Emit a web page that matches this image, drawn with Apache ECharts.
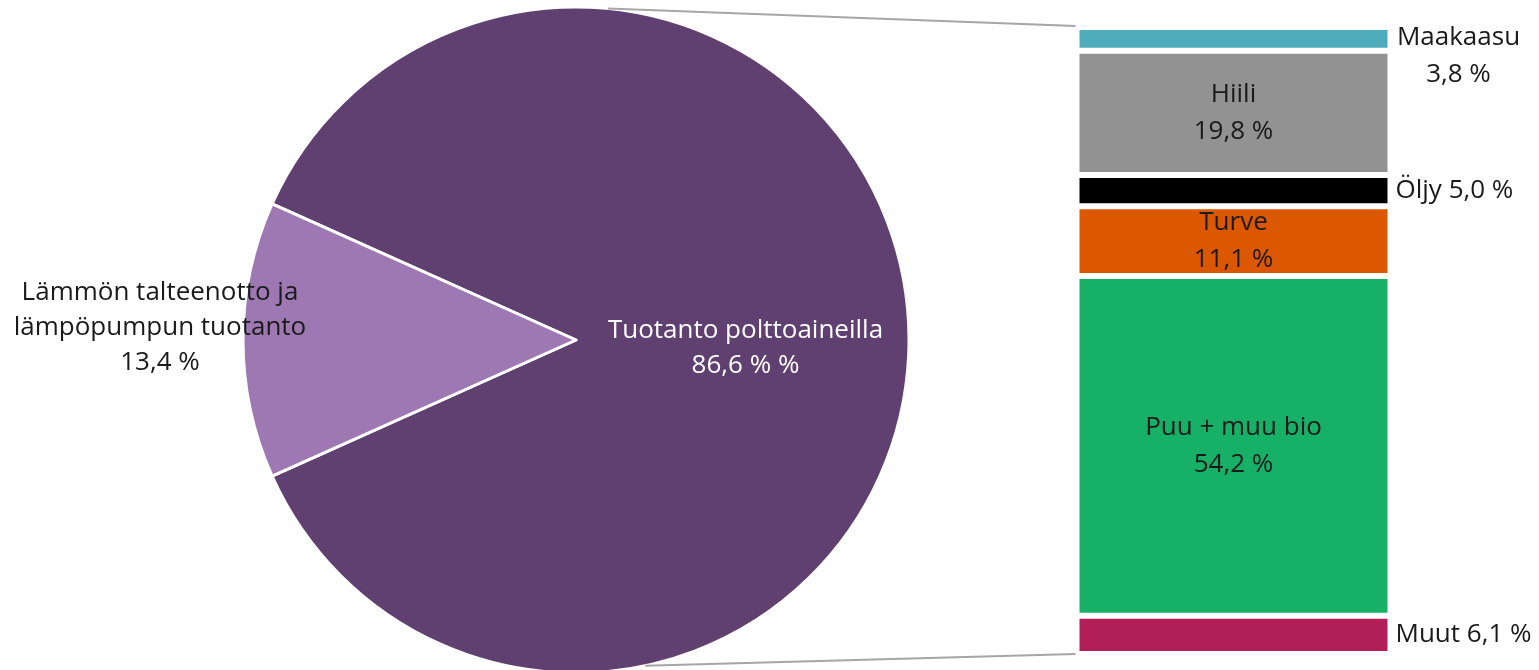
<!DOCTYPE html>
<html><head><meta charset="utf-8">
<script src="https://cdn.jsdelivr.net/npm/echarts@6/dist/echarts.min.js"></script>
<style>html,body{margin:0;padding:0;background:#fff}#c{width:1539px;height:670px}</style>
</head><body><div id="c"></div>
<script>
// Pie data
const pieNames = ['Tuotanto polttoaineilla', 'Lämmön talteenotto ja\nlämpöpumpun tuotanto'];
const pieValues = [86.6, 13.4];
const pieLabels = ['Tuotanto polttoaineilla\n86,6 % %', 'Lämmön talteenotto ja\nlämpöpumpun tuotanto\n13,4 %'];
const pieColors = ['#604070', '#9E78B2'];

// Stacked bar (fuel breakdown) data, top to bottom
const fuelNames = ['Maakaasu', 'Hiili', 'Öljy', 'Turve', 'Puu + muu bio', 'Muut'];
const fuelValues = [3.8, 19.8, 5.0, 11.1, 54.2, 6.1];
const fuelLabels = ['Maakaasu\n3,8 %', 'Hiili\n19,8 %', 'Öljy 5,0 %', 'Turve\n11,1 %', 'Puu + muu bio\n54,2 %', 'Muut 6,1 %'];
const fuelColors = ['#4FADBB', '#929292', '#000000', '#DB5700', '#17B067', '#B11E58'];
const fuelLabelPos = ['right', 'inside', 'right', 'inside', 'inside', 'right'];

const FONT = 'Open Sans';
const FS = 26;
const TXT = '#1a1a1a';

const cx = 576, cy = 340, R = 333;
const gLeft = 1076.5, gWidth = 314, gTop = 27, gHeight = 627;

const chart = echarts.init(document.getElementById('c'));

const barSeries = fuelNames.map((n, i) => {
  const lab = {
    show: true, formatter: fuelLabels[i], position: fuelLabelPos[i],
    fontFamily: FONT, fontSize: FS, color: TXT, lineHeight: 37, distance: 5
  };
  if (i === 0) { lab.align = 'center'; lab.offset = [63, 17]; }
  return {
    type: 'bar', name: n, stack: 'fuel', barWidth: '100%',
    data: [fuelValues[i]],
    itemStyle: { color: fuelColors[i], borderColor: '#fff', borderWidth: 3 },
    label: lab, silent: true
  };
});

const option = {
  animation: false,
  backgroundColor: '#fff',
  grid: { left: gLeft, width: gWidth, top: gTop, height: gHeight },
  xAxis: { type: 'category', data: ['a'], show: false },
  yAxis: { type: 'value', min: 0, max: 100, inverse: true, show: false },
  series: [
    {
      type: 'pie', center: [cx, cy], radius: R,
      startAngle: 180 - pieValues[1] / 100 * 360 / 2,
      clockwise: true,
      data: pieNames.map((n, i) => ({
        name: n, value: pieValues[i],
        itemStyle: { color: pieColors[i] },
        label: { formatter: pieLabels[i], color: i === 0 ? '#fff' : TXT }
      })),
      itemStyle: { borderColor: '#fff', borderWidth: 3 },
      label: { show: true, position: 'inside', fontFamily: FONT, fontSize: FS, lineHeight: 35, align: 'center' },
      labelLine: { show: false },
      labelLayout: function (p) {
        if (p.dataIndex === 1) return { x: 160, y: 328, align: 'center', verticalAlign: 'middle' };
        return { dy: 4 };
      },
      silent: true
    }
  ].concat(barSeries)
};
chart.setOption(option);

// connector lines from pie to bar edges
const barTop = chart.convertToPixel({ gridIndex: 0 }, ['a', 0]);
const barBot = chart.convertToPixel({ gridIndex: 0 }, ['a', 100]);
const angTop = (90 - 84.5) * Math.PI / 180;
const angBot = (90 - 78) * Math.PI / 180;
const p1 = [cx + R * Math.sin(angTop), cy - R * Math.cos(angTop)];
const p2 = [cx + R * Math.sin(angBot), cy + R * Math.cos(angBot)];
const bx = gLeft - 1;
chart.setOption({
  graphic: [
    { type: 'line', shape: { x1: p1[0], y1: p1[1], x2: bx, y2: barTop[1] - 1 }, style: { stroke: '#A6A6A6', lineWidth: 2 }, z: 10 },
    { type: 'line', shape: { x1: p2[0], y1: p2[1], x2: bx, y2: barBot[1] }, style: { stroke: '#A6A6A6', lineWidth: 2 }, z: 10 }
  ]
});
</script></body></html>
